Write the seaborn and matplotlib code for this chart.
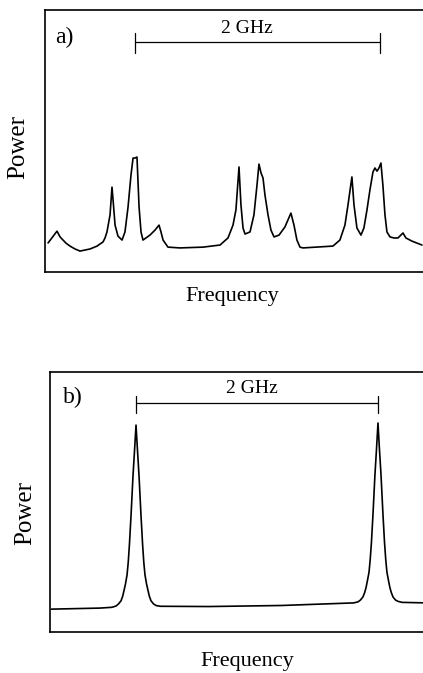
import matplotlib
matplotlib.use('Agg')
import matplotlib.pyplot as plt
import seaborn as sns

# panel a) - multimode spectrum, frequency in GHz, power in arbitrary units
freq_a = [-0.710, -0.637, -0.612, -0.588, -0.563, -0.531, -0.490, -0.449, -0.367, -0.310,
          -0.261, -0.245, -0.229, -0.204, -0.188, -0.176, -0.163, -0.139, -0.106, -0.082,
          -0.057, -0.033, -0.016, 0.000, 0.016, 0.033, 0.049, 0.065, 0.122, 0.163,
          0.196, 0.212, 0.229, 0.269, 0.367, 0.555, 0.694, 0.759, 0.800, 0.824,
          0.849, 0.865, 0.882, 0.898, 0.939, 0.971, 0.996, 1.012, 1.029, 1.045,
          1.061, 1.086, 1.110, 1.135, 1.176, 1.224, 1.273, 1.298, 1.322, 1.347,
          1.371, 1.616, 1.673, 1.714, 1.739, 1.771, 1.788, 1.812, 1.845, 1.869,
          1.894, 1.918, 1.943, 1.959, 1.976, 1.992, 2.008, 2.024, 2.041, 2.057,
          2.082, 2.114, 2.147, 2.188, 2.212, 2.261, 2.343]
power_a = [11.1, 15.6, 13.4, 12.2, 11.0, 9.9, 8.8, 8.0, 8.8, 9.9,
           11.5, 13.0, 15.3, 21.8, 32.4, 25.6, 17.9, 13.7, 12.2, 15.3,
           24.8, 37.0, 43.5, 43.5, 43.9, 24.8, 15.3, 12.2, 14.1, 16.0,
           17.9, 15.3, 12.2, 9.5, 9.2, 9.5, 10.3, 13.0, 17.9, 23.7,
           40.1, 25.6, 16.8, 14.5, 15.3, 21.8, 33.2, 41.2, 37.8, 35.9,
           29.4, 21.8, 16.0, 13.4, 14.1, 17.2, 22.5, 17.9, 12.2, 9.5,
           9.2, 9.9, 12.2, 17.9, 25.6, 36.3, 25.6, 16.8, 14.1, 16.8,
           23.7, 31.3, 38.2, 39.7, 38.5, 39.7, 41.6, 33.2, 21.8, 15.3,
           13.4, 13.0, 13.0, 14.9, 13.0, 11.8, 10.3]

# panel b) - single mode spectrum
freq_b = [-0.70, -0.30, -0.200, -0.165, -0.145, -0.124, -0.110, -0.099, -0.087, -0.074,
          -0.064, -0.054, -0.041, -0.025, -0.012, 0.000, 0.012, 0.025, 0.041, 0.054,
          0.064, 0.074, 0.087, 0.099, 0.110, 0.124, 0.145, 0.165, 0.200, 0.60,
          1.20, 1.800, 1.835, 1.855, 1.876, 1.890, 1.901, 1.913, 1.926, 1.936,
          1.946, 1.959, 1.975, 1.988, 2.000, 2.012, 2.025, 2.041, 2.054, 2.064,
          2.074, 2.087, 2.099, 2.110, 2.124, 2.145, 2.165, 2.200, 2.40]
power_b = [8.8, 9.2, 9.5, 10.0, 10.8, 12.0, 13.8, 16.0, 18.5, 22.0,
           27.0, 34.0, 45.0, 60.0, 70.0, 79.6, 70.0, 60.0, 45.0, 34.0,
           27.0, 22.0, 18.5, 16.0, 13.8, 12.0, 10.8, 10.2, 9.9, 9.8,
           10.2, 11.2, 11.6, 12.3, 13.5, 15.2, 17.0, 19.8, 23.0, 28.0,
           34.5, 45.5, 60.5, 70.5, 80.4, 70.5, 60.5, 45.5, 34.5, 28.0,
           23.0, 19.8, 17.0, 15.2, 13.5, 12.3, 11.8, 11.4, 11.2]

panel_tags = ['a)', 'b)']
spacing_label = '2 GHz'
spacing_ghz = [0.0, 2.0]

sns.set_style('white')
plt.rcParams['font.family'] = ['Liberation Serif', 'DejaVu Serif']

fig = plt.figure(figsize=(4.23, 6.73), dpi=100)
ax_a = fig.add_axes([0.1064, 0.5958, 0.9007, 0.3893])
ax_b = fig.add_axes([0.1182, 0.0609, 0.8889, 0.3863])

panels = [
    # ax, x, y, xlim, tag pos, bracket y (lo, mid, hi), label pos, xlabel pos, ylabel pos
    (ax_a, freq_a, power_a, (-0.735, 2.376), (0.026, 0.897), (83.6, 87.8, 91.2),
     (0.91, 93.1), (0.491, -0.095), (-0.071, 0.477)),
    (ax_b, freq_b, power_b, (-0.711, 2.397), (0.034, 0.904), (84.2, 88.1, 90.8),
     (0.96, 93.5), (0.524, -0.112), (-0.066, 0.458)),
]

for (ax, fx, py, xlim, tag_xy, brk, lab_xy, xl_xy, yl_xy), tag in zip(panels, panel_tags):
    sns.lineplot(x=fx, y=py, ax=ax, color='black', linewidth=1.2)
    ax.set_xlim(*xlim)
    ax.set_ylim(0, 100)
    ax.set_xticks([])
    ax.set_yticks([])
    for sp in ax.spines.values():
        sp.set_color('black')
        sp.set_linewidth(1.2)
    ax.spines['right'].set_visible(False)

    # 2 GHz spacing bracket
    lo, mid, hi = brk
    ax.plot(spacing_ghz, [mid, mid], color='black', lw=0.9)
    for xe in spacing_ghz:
        ax.plot([xe, xe], [lo, hi], color='black', lw=0.9)
    ax.text(lab_xy[0], lab_xy[1], spacing_label, ha='center', va='center',
            fontsize=14, color='black')
    ax.text(tag_xy[0], tag_xy[1], tag, transform=ax.transAxes,
            ha='left', va='center', fontsize=17, color='black')

    ax.set_xlabel('Frequency', fontsize=16, va='center', color='black')
    ax.xaxis.set_label_coords(*xl_xy)
    ax.set_ylabel('Power', fontsize=18, va='center', color='black')
    ax.yaxis.set_label_coords(*yl_xy)

fig.savefig('out.png', dpi=100)
